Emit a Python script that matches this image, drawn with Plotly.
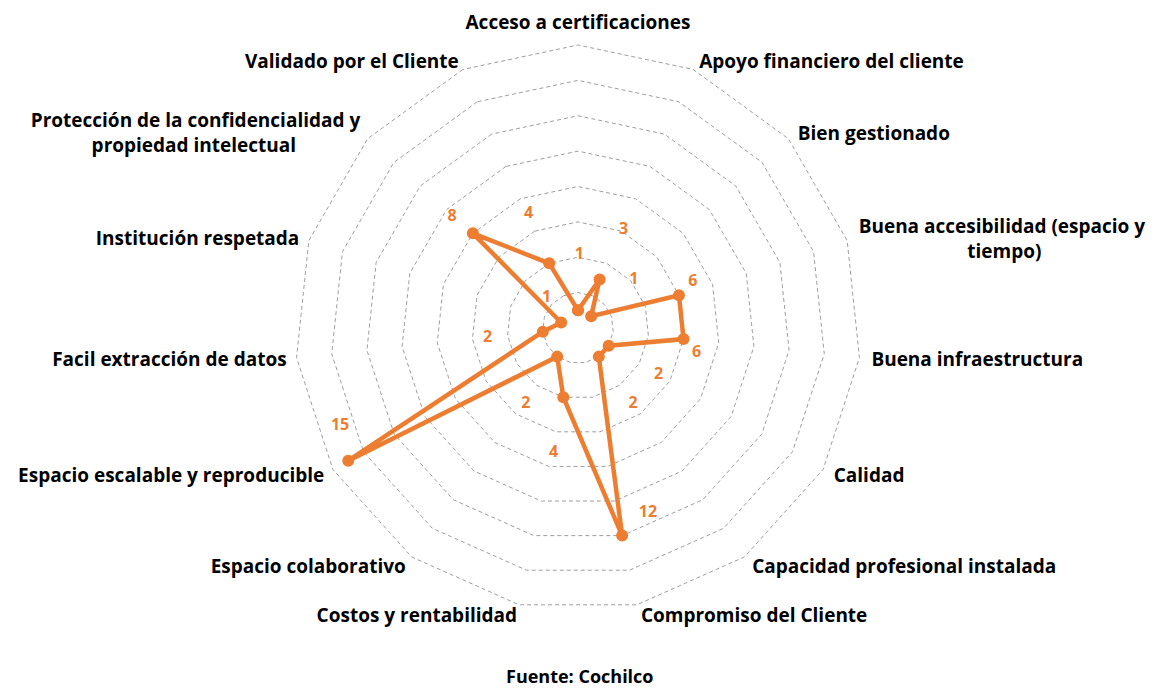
import numpy as np
import plotly.graph_objects as go

NB = "\u00a0"
categories = [
    "Acceso a certificaciones",
    "Apoyo financiero del cliente",
    "Bien gestionado",
    "Buena accesibilidad (espacio y<br>" + NB * 22 + "tiempo)",
    "Buena infraestructura",
    "Calidad",
    "Capacidad profesional instalada",
    "Compromiso del Cliente",
    "Costos y rentabilidad",
    "Espacio colaborativo",
    "Espacio escalable y reproducible",
    "Facil extracción de datos",
    "Institución respetada",
    "Protección de la confidencialidad y<br>propiedad intelectual" + NB * 13,
    "Validado por el Cliente",
]
values = [1, 3, 1, 6, 6, 2, 2, 12, 4, 2, 15, 2, 1, 8, 4]

# data-label placement (radius in data units, angle in degrees, clockwise from top)
label_r = [4.1, 6.1, 4.15, 7.0, 6.85, 5.27, 5.3, 11.2, 7.2, 5.2, 14.55, 5.15, 2.45, 9.5, 7.05]
label_theta = [1, 25, 49.4, 68.1, 102, 120.1, 144, 159.3, 191, 214.5, 247.6, 263.5, 313.5, 311.4, 336.6]

ORANGE = "#ED7D31"
GRID = "#9E9E9E"
FONT = "Open Sans"

W, H = 1154, 680          # page body adds an 8px offset
cx, cy = 578 - 8, 328 - 8
RTOP = 16                 # outermost grid ring
R16_PX = 283              # pixel radius of the outermost ring
RMAX = 17
ppu = R16_PX / RTOP
rad = ppu * RMAX
dom_x = [(cx - rad) / W, (cx + rad) / W]
dom_y = [(H - cy - rad) / H, (H - cy + rad) / H]

# category label anchors: just outside each outer vertex (pixel offsets -> polar coords)
n = len(categories)
ang = np.arange(n) * 360.0 / n
a = np.radians(ang)
px_x = R16_PX * np.sin(a) + 10 * np.sin(a)
px_y = R16_PX * np.cos(a) + 10 * np.cos(a) - 3
px_y[0] += 4
px_x[(ang > 0) & (ang < 180)] += 2
cat_r = np.hypot(px_x, px_y) / ppu
cat_theta = np.degrees(np.arctan2(px_x, px_y)) % 360
cat_pos = ["top center" if t == 0 else ("middle right" if t < 180 else "middle left") for t in ang]

fig = go.Figure()
fig.add_trace(go.Scatterpolar(
    r=values + values[:1],
    theta=categories + categories[:1],
    mode="lines+markers",
    line=dict(color=ORANGE, width=4.5),
    marker=dict(color=ORANGE, size=12),
    subplot="polar",
    showlegend=False,
    hoverinfo="skip",
))
fig.add_trace(go.Scatterpolar(
    r=label_r,
    theta=label_theta,
    mode="text",
    text=[str(v) for v in values],
    textfont=dict(family=FONT, size=16, color=ORANGE, weight="bold"),
    subplot="polar2",
    showlegend=False,
    hoverinfo="skip",
))
fig.add_trace(go.Scatterpolar(
    r=cat_r,
    theta=cat_theta,
    mode="text",
    text=categories,
    textposition=cat_pos,
    textfont=dict(family=FONT, size=19, color="black", weight="bold"),
    subplot="polar2",
    showlegend=False,
    hoverinfo="skip",
    cliponaxis=False,
))

fig.update_layout(
    width=W, height=H,
    margin=dict(l=0, r=0, t=0, b=0),
    paper_bgcolor="white",
    polar=dict(
        domain=dict(x=dom_x, y=dom_y),
        bgcolor="rgba(0,0,0,0)",
        gridshape="linear",
        radialaxis=dict(range=[0, RMAX], dtick=2, showticklabels=False, ticks="",
                        showline=False, gridcolor=GRID, griddash="4px,3px", gridwidth=1),
        angularaxis=dict(type="category", rotation=90, direction="clockwise",
                         showgrid=False, showline=False, ticks="", showticklabels=False),
    ),
    polar2=dict(
        domain=dict(x=dom_x, y=dom_y),
        bgcolor="rgba(0,0,0,0)",
        radialaxis=dict(range=[0, RMAX], visible=False),
        angularaxis=dict(rotation=90, direction="clockwise", visible=False),
    ),
    annotations=[dict(text="Fuente: Cochilco", x=(580 - 8) / W, y=12 / H, xref="paper", yref="paper",
                      xanchor="center", yanchor="middle", showarrow=False,
                      font=dict(family=FONT, size=18, color="black", weight="bold"))],
)

fig.write_html("out.html")
